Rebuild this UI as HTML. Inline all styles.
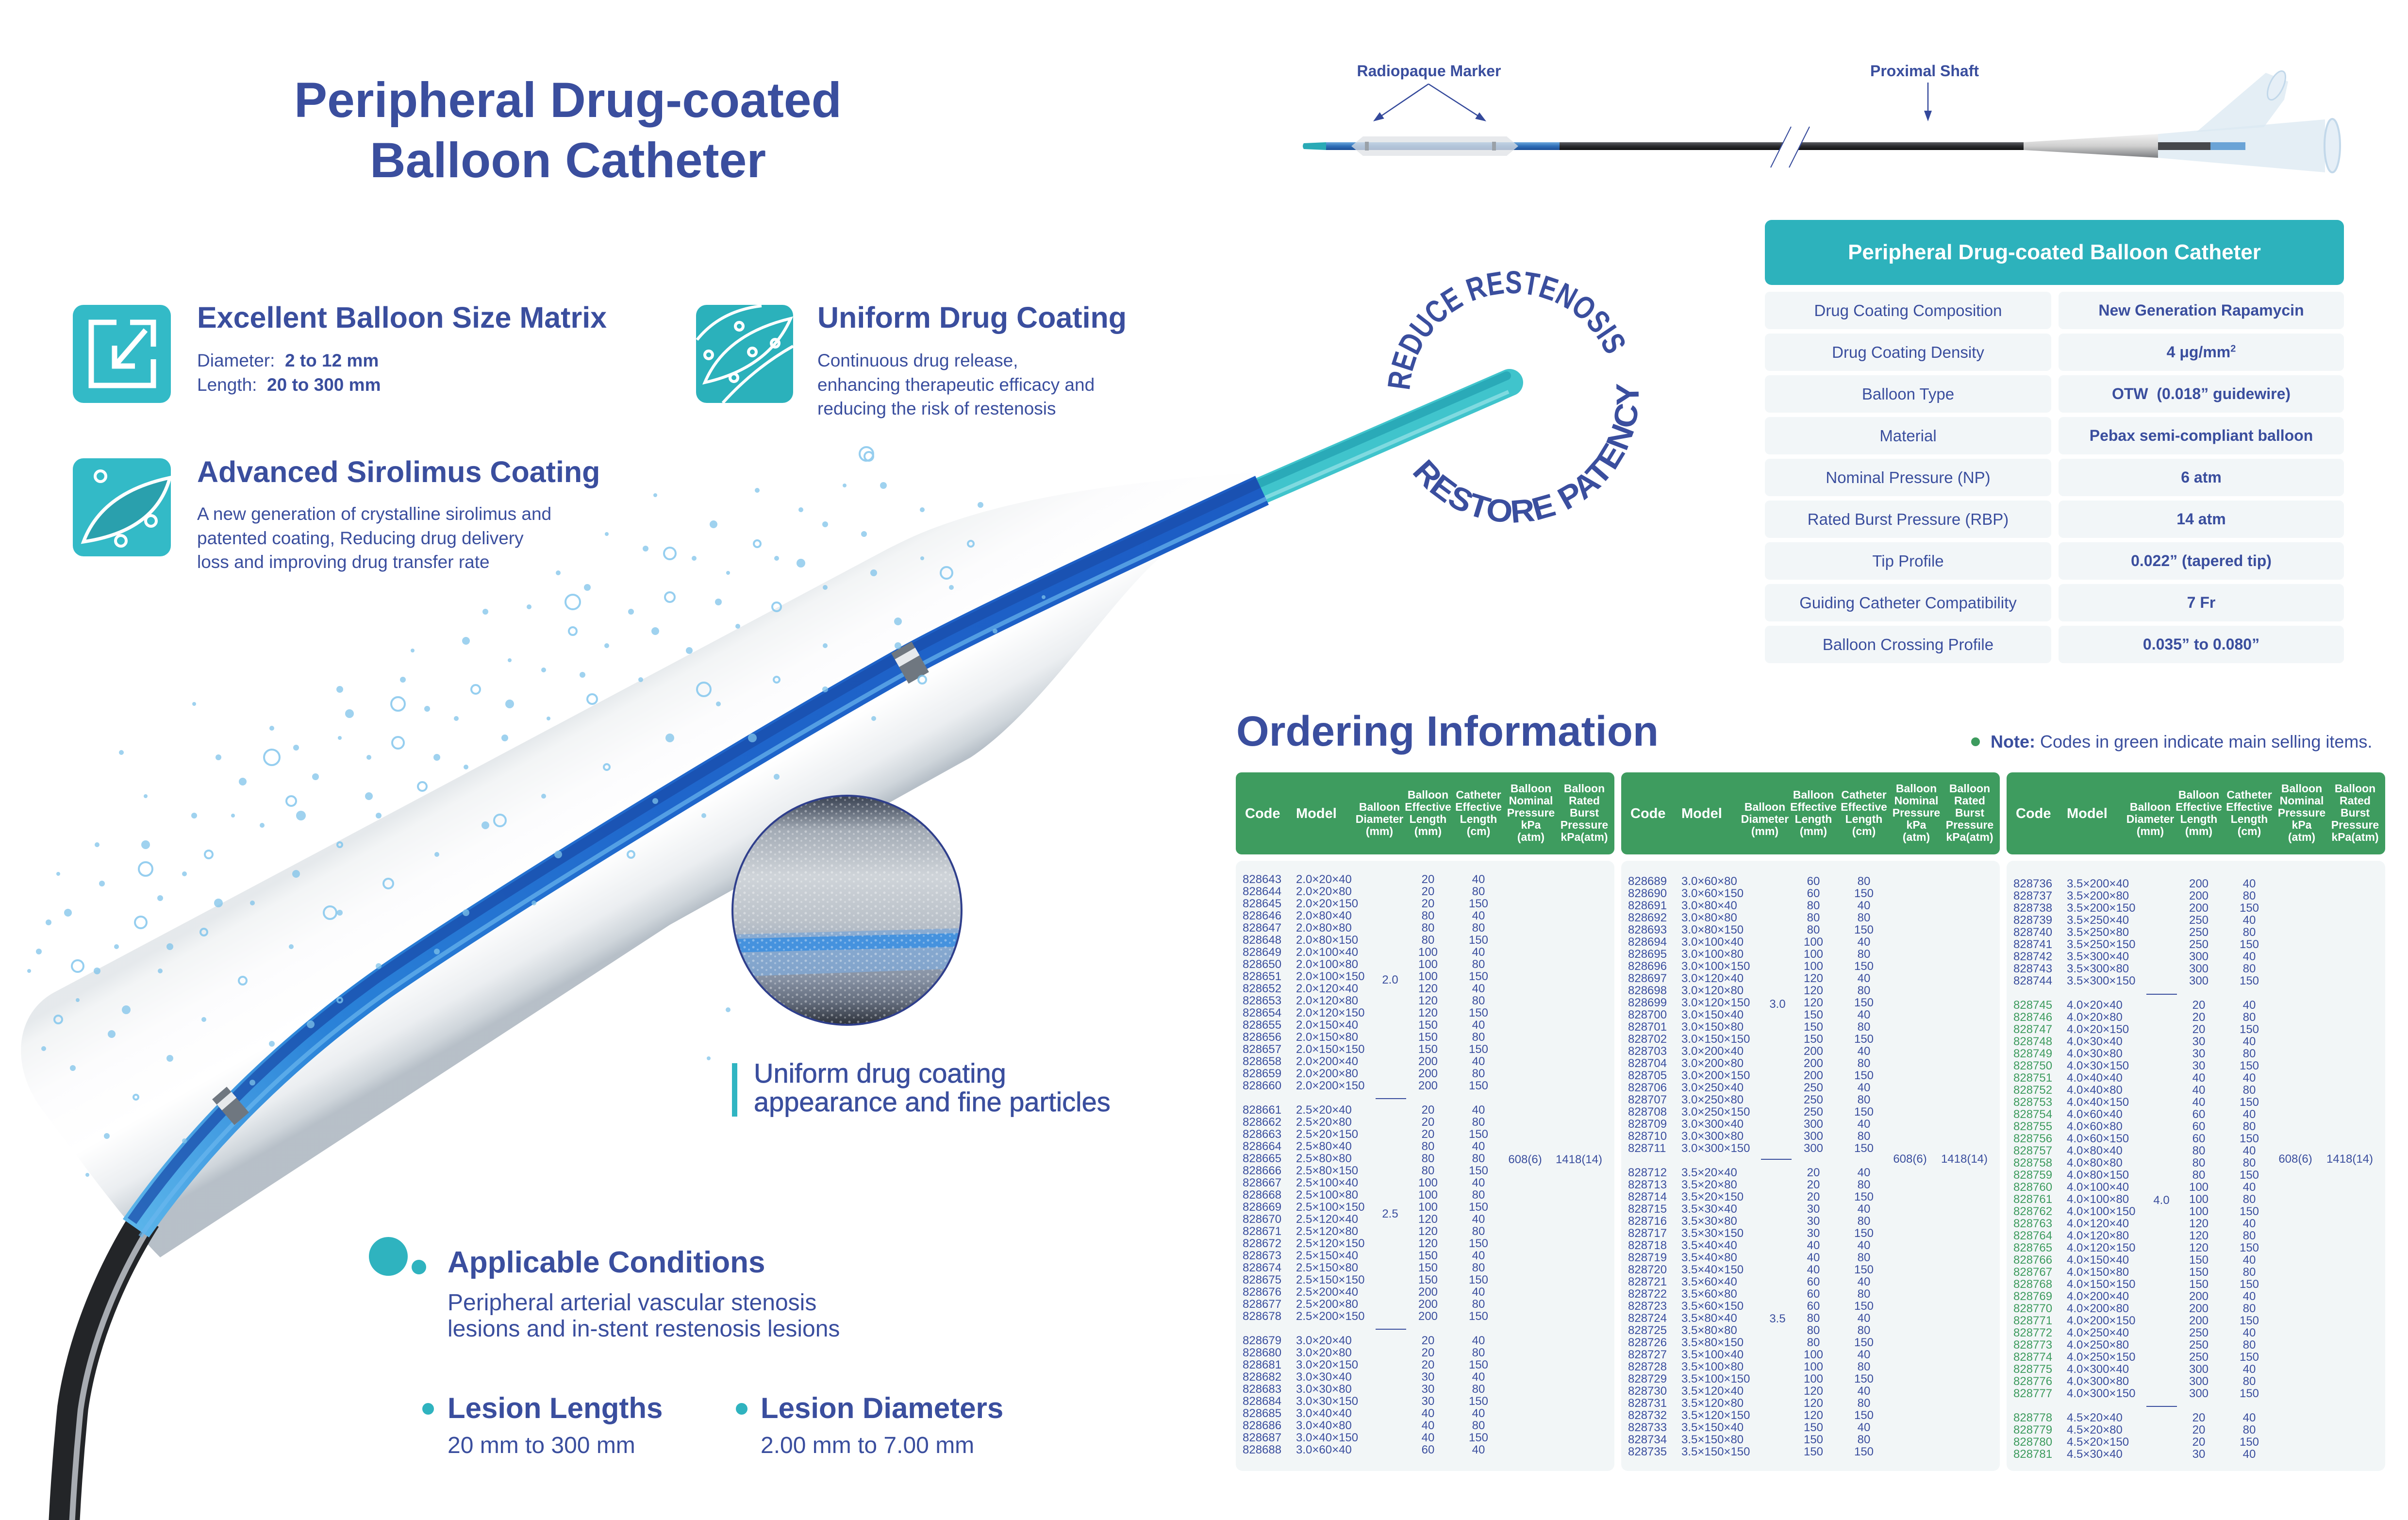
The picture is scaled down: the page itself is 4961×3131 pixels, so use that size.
<!DOCTYPE html>
<html><head><meta charset="utf-8"><title>Peripheral Drug-coated Balloon Catheter</title>
<style>
body{margin:0}
#pg{position:relative;width:4961px;height:3131px;overflow:hidden;background:#fff;font-family:"Liberation Sans",Arial,sans-serif;color:#3a4e9e}
.a{position:absolute;white-space:nowrap}
.hb{position:absolute;background:#3e9c5f;border-radius:12px;width:780px;height:169px;top:1591px}
.bd{position:absolute;background:#f2f6f7;border-radius:14px;width:780px;height:1257px;top:1773px}
.hd{position:absolute;color:#fff;font-weight:bold;font-size:23px;line-height:25px;text-align:center;width:130px;white-space:nowrap}
.hc{position:absolute;color:#fff;font-weight:bold;font-size:29px;line-height:30px;top:1661px}
.tb{position:absolute;font-size:24px;line-height:25px;color:#3a4e9e;width:780px}
.tb div{position:relative;height:25px}
.tb b,.tb i,.tb s,.tb u{position:absolute;top:0;font-weight:normal;font-style:normal;text-decoration:none;white-space:nowrap}
.tb b{left:14px}.tb i{left:124px}.tb s{left:356px;width:80px;text-align:center}.tb u{left:460px;width:80px;text-align:center}
.tb .g b{color:#3d9b5e}
.lbl{position:absolute;font-size:24px;line-height:25px;width:120px;text-align:center;color:#3a4e9e}
.sep{position:absolute;height:2px;width:63px;background:#3a4e9e}
.sl,.sr{position:absolute;height:77px;line-height:77px;text-align:center;background:#f2f6f8;border-radius:10px;white-space:nowrap}
.sl{left:3636px;width:590px;font-size:33px}
.sr{left:4241px;width:588px;font-size:32px;font-weight:bold}
</style></head>
<body><div id="pg">
<svg class="a" style="left:0;top:0" width="4961" height="3131" viewBox="0 0 4961 3131" xmlns="http://www.w3.org/2000/svg">
<defs>
<linearGradient id="balg" gradientUnits="userSpaceOnUse" x1="1145" y1="1494" x2="1377" y2="1906">
<stop offset="0" stop-color="#e4e8eb"/><stop offset=".08" stop-color="#f2f4f5"/><stop offset=".3" stop-color="#fcfcfd"/><stop offset=".6" stop-color="#ffffff"/><stop offset=".82" stop-color="#eaedf0"/><stop offset=".94" stop-color="#ccd3d9"/><stop offset="1" stop-color="#b3bcc5"/>
</linearGradient>
<linearGradient id="blu" gradientUnits="userSpaceOnUse" x1="2600" y1="1010" x2="280" y2="2530">
<stop offset="0" stop-color="#1c5cc4"/><stop offset=".5" stop-color="#1f66cb"/><stop offset=".8" stop-color="#2a82d8"/><stop offset="1" stop-color="#5ab4ea"/>
</linearGradient>
<linearGradient id="magg" x1="0" y1="0" x2="0" y2="1">
<stop offset="0" stop-color="#384050"/><stop offset=".07" stop-color="#656e7c"/><stop offset=".15" stop-color="#a3abb5"/><stop offset=".35" stop-color="#cfd4d9"/><stop offset=".55" stop-color="#bac1c9"/><stop offset=".62" stop-color="#a9b4c2"/><stop offset=".8" stop-color="#8590a2"/><stop offset=".9" stop-color="#646d7d"/><stop offset="1" stop-color="#2c313a"/>
</linearGradient>
<pattern id="spk" width="18" height="14" patternUnits="userSpaceOnUse"><circle cx="4" cy="5" r="2.5" fill="#fff" opacity=".6"/><circle cx="13" cy="10" r="2" fill="#fff" opacity=".5"/></pattern>
<clipPath id="magc"><circle cx="1745" cy="1875" r="236"/></clipPath>
<linearGradient id="sb" x1="0" y1="0" x2="0" y2="1"><stop offset="0" stop-color="#6aa6dc"/><stop offset=".5" stop-color="#2f6fb8"/><stop offset="1" stop-color="#1d4f96"/></linearGradient>
<linearGradient id="sk" x1="0" y1="0" x2="0" y2="1"><stop offset="0" stop-color="#5b5d62"/><stop offset=".5" stop-color="#2a2b2e"/><stop offset="1" stop-color="#111"/></linearGradient>
<linearGradient id="cn" x1="0" y1="0" x2="0" y2="1"><stop offset="0" stop-color="#f2f2f2"/><stop offset=".5" stop-color="#d0d0d0"/><stop offset="1" stop-color="#7b7d80"/></linearGradient>
<path id="tp1" d="M 2904 816 A 212 212 0 0 1 3328 816"/>
<path id="tp2" d="M 2903 965.1 A 260 260 0 0 0 3372 770.9"/>
</defs>

<!-- balloon envelope -->
<path d="M 2610 972 C 2400 985, 2150 1010, 1960 1075 C 1900 1095, 1870 1110, 1830 1130 L 110 2045 C 30 2090, 20 2200, 90 2290 C 180 2410, 260 2520, 330 2590 L 1380 1905 L 2000 1560 C 2150 1460, 2290 1230, 2400 1140 C 2480 1080, 2540 1055, 2610 1045 Z" fill="url(#balg)" opacity=".95"/>

<!-- dark proximal tube -->
<path d="M 300 2510 C 230 2620, 170 2760, 150 2900 C 140 3000, 135 3080, 132 3140" fill="none" stroke="#232528" stroke-width="64"/>
<path d="M 316 2514 C 246 2624, 186 2764, 166 2904 C 156 3004, 151 3084, 148 3144" fill="none" stroke="#c9ced4" stroke-width="12" opacity=".8"/>

<!-- teal tip -->
<path d="M 2600 1010 L 3110 788" stroke="#40c4cc" stroke-width="56" stroke-linecap="round" fill="none"/>
<path d="M 2594 996 L 3104 774" stroke="#2aaab8" stroke-width="18" stroke-linecap="round" fill="none"/>
<path d="M 2607 1025 L 3108 807" stroke="#8fe0e5" stroke-width="8" fill="none" opacity=".8"/>
<!-- blue shaft -->
<path d="M 2600 1010 C 2300 1150, 2000 1290, 1870 1362 C 1500 1570, 1000 1880, 790 2025 C 600 2160, 420 2330, 280 2530" fill="none" stroke="url(#blu)" stroke-width="66"/>
<path d="M 2592 995 C 2292 1135, 1992 1275, 1862 1347 C 1492 1555, 992 1865, 782 2010 C 592 2145, 412 2315, 272 2515" fill="none" stroke="#1a4dab" stroke-width="22" opacity=".75"/>
<path d="M 2609 1027 C 2309 1167, 2009 1307, 1879 1379 C 1509 1587, 1009 1897, 799 2042 C 609 2177, 429 2347, 289 2547" fill="none" stroke="#6ab6ee" stroke-width="9" opacity=".7"/>
<!-- marker bands -->
<path d="M 1896 1353 L 1854 1377" stroke="#6f7780" stroke-width="72"/>
<path d="M 1890 1342 L 1848 1366" stroke="#e6e9ec" stroke-width="18"/>
<path d="M 490 2265 L 460 2291" stroke="#6f7780" stroke-width="70"/>
<path d="M 482 2255 L 452 2281" stroke="#e6e9ec" stroke-width="16"/>

<!-- particles -->
<g fill="#7fc3ea" opacity=".75">
<circle cx="1740" cy="1000" r="4"/><circle cx="1650" cy="1050" r="5"/><circle cx="1500" cy="1180" r="4"/><circle cx="1430" cy="1150" r="5"/><circle cx="1300" cy="1260" r="6"/><circle cx="1250" cy="1330" r="5"/><circle cx="1120" cy="1380" r="5"/><circle cx="1050" cy="1360" r="4"/><circle cx="940" cy="1480" r="5"/><circle cx="880" cy="1460" r="6"/><circle cx="760" cy="1560" r="5"/><circle cx="700" cy="1520" r="4"/><circle cx="650" cy="1600" r="7"/><circle cx="540" cy="1700" r="5"/><circle cx="480" cy="1680" r="4"/><circle cx="380" cy="1800" r="5"/><circle cx="330" cy="1850" r="6"/><circle cx="240" cy="1950" r="5"/><circle cx="200" cy="2000" r="7"/><circle cx="160" cy="2060" r="4"/><circle cx="90" cy="2160" r="5"/><circle cx="150" cy="2200" r="6"/><circle cx="260" cy="2080" r="9"/><circle cx="330" cy="2000" r="5"/><circle cx="520" cy="1860" r="5"/><circle cx="610" cy="1800" r="8"/><circle cx="780" cy="1680" r="6"/><circle cx="960" cy="1580" r="5"/><circle cx="1040" cy="1520" r="7"/><circle cx="1130" cy="1480" r="4"/><circle cx="1320" cy="1400" r="5"/><circle cx="1420" cy="1340" r="7"/><circle cx="1520" cy="1290" r="5"/><circle cx="1700" cy="1210" r="5"/><circle cx="1800" cy="1180" r="7"/><circle cx="1900" cy="1150" r="4"/><circle cx="1960" cy="1210" r="5"/><circle cx="1850" cy="1280" r="8"/><circle cx="1700" cy="1330" r="5"/><circle cx="1480" cy="1450" r="5"/><circle cx="1380" cy="1520" r="9"/><circle cx="1120" cy="1640" r="5"/><circle cx="1000" cy="1700" r="8"/><circle cx="900" cy="1760" r="5"/><circle cx="700" cy="1880" r="6"/><circle cx="600" cy="1950" r="5"/><circle cx="420" cy="2100" r="5"/><circle cx="350" cy="2180" r="7"/><circle cx="220" cy="2340" r="6"/><circle cx="180" cy="2420" r="4"/><circle cx="380" cy="2350" r="5"/><circle cx="560" cy="2150" r="6"/><circle cx="900" cy="1960" r="6"/><circle cx="1100" cy="1860" r="5"/><circle cx="1450" cy="1680" r="5"/><circle cx="1600" cy="1600" r="6"/><circle cx="1800" cy="1480" r="5"/><circle cx="2050" cy="1300" r="5"/><circle cx="2150" cy="1230" r="4"/><circle cx="1150" cy="1180" r="5"/><circle cx="1000" cy="1260" r="6"/><circle cx="850" cy="1340" r="4"/><circle cx="700" cy="1420" r="7"/><circle cx="560" cy="1500" r="5"/><circle cx="450" cy="1560" r="6"/><circle cx="300" cy="1640" r="4"/><circle cx="200" cy="1740" r="5"/><circle cx="100" cy="1900" r="6"/><circle cx="60" cy="2000" r="4"/><circle cx="1500" cy="2080" r="5"/><circle cx="1460" cy="2180" r="4"/><circle cx="1250" cy="1100" r="4"/><circle cx="1600" cy="1150" r="5"/><circle cx="1350" cy="1020" r="4"/><circle cx="400" cy="1450" r="4"/><circle cx="250" cy="1550" r="5"/><circle cx="120" cy="1800" r="4"/>
<circle cx="1820" cy="1000" r="7"/><circle cx="1700" cy="1080" r="6"/><circle cx="1560" cy="1010" r="5"/><circle cx="1470" cy="1080" r="8"/><circle cx="1330" cy="1130" r="6"/><circle cx="1210" cy="1210" r="7"/><circle cx="1090" cy="1250" r="5"/><circle cx="960" cy="1320" r="8"/><circle cx="830" cy="1400" r="6"/><circle cx="720" cy="1470" r="9"/><circle cx="610" cy="1540" r="6"/><circle cx="500" cy="1610" r="8"/><circle cx="400" cy="1680" r="6"/><circle cx="300" cy="1740" r="9"/><circle cx="210" cy="1820" r="6"/><circle cx="140" cy="1880" r="8"/><circle cx="80" cy="1960" r="6"/><circle cx="620" cy="1680" r="10"/><circle cx="760" cy="1640" r="8"/><circle cx="900" cy="1560" r="7"/><circle cx="1050" cy="1450" r="9"/><circle cx="1200" cy="1390" r="6"/><circle cx="1350" cy="1300" r="8"/><circle cx="1480" cy="1240" r="7"/><circle cx="1650" cy="1160" r="9"/><circle cx="1780" cy="1100" r="6"/><circle cx="1900" cy="1050" r="5"/><circle cx="2020" cy="1040" r="6"/><circle cx="450" cy="1860" r="9"/><circle cx="350" cy="1950" r="7"/><circle cx="230" cy="2130" r="8"/><circle cx="520" cy="2230" r="6"/><circle cx="640" cy="2110" r="8"/><circle cx="780" cy="1990" r="6"/><circle cx="960" cy="1880" r="7"/><circle cx="1150" cy="1760" r="8"/><circle cx="1350" cy="1650" r="6"/><circle cx="1550" cy="1520" r="9"/><circle cx="1700" cy="1420" r="6"/><circle cx="1850" cy="1330" r="7"/>
</g>
<g fill="none" stroke="#7cc3ec" stroke-width="4" opacity=".8">
<circle cx="1790" cy="940" r="9"/><circle cx="1560" cy="1120" r="7"/><circle cx="1380" cy="1230" r="10"/><circle cx="1180" cy="1300" r="8"/><circle cx="980" cy="1420" r="9"/><circle cx="820" cy="1530" r="12"/><circle cx="600" cy="1650" r="10"/><circle cx="430" cy="1760" r="8"/><circle cx="290" cy="1900" r="12"/><circle cx="120" cy="2100" r="8"/><circle cx="420" cy="1920" r="7"/><circle cx="700" cy="1740" r="5"/><circle cx="870" cy="1620" r="9"/><circle cx="1220" cy="1440" r="10"/><circle cx="1600" cy="1250" r="9"/><circle cx="2000" cy="1120" r="6"/><circle cx="1600" cy="1400" r="6"/><circle cx="1250" cy="1580" r="6"/><circle cx="800" cy="1820" r="10"/><circle cx="500" cy="2020" r="8"/><circle cx="280" cy="2260" r="5"/><circle cx="700" cy="2060" r="5"/><circle cx="1300" cy="1760" r="7"/><circle cx="1900" cy="1400" r="8"/>
<circle cx="1785" cy="935" r="14"/><circle cx="1380" cy="1140" r="12"/><circle cx="1180" cy="1240" r="15"/><circle cx="820" cy="1450" r="14"/><circle cx="560" cy="1560" r="16"/><circle cx="300" cy="1790" r="14"/><circle cx="160" cy="1990" r="12"/><circle cx="680" cy="1880" r="13"/><circle cx="1030" cy="1690" r="12"/><circle cx="1450" cy="1420" r="14"/><circle cx="1950" cy="1180" r="12"/>
</g>

<!-- magnifier -->
<g clip-path="url(#magc)">
<rect x="1509" y="1639" width="472" height="472" fill="url(#magg)"/>
<path d="M1509 1925 L1981 1912 L1981 1995 L1509 2012 Z" fill="#7fa8d4" opacity=".8"/>
<path d="M1509 1934 L1981 1922 L1981 1950 L1509 1962 Z" fill="#3a8ee0" opacity=".85"/>
<rect x="1509" y="1639" width="472" height="472" fill="url(#spk)" opacity=".6"/>
</g>
<circle cx="1745" cy="1875" r="236" fill="none" stroke="#2f3f8c" stroke-width="4"/>
<rect x="1508" y="2190" width="11" height="110" fill="#30b5c2"/>

<!-- circular text -->
<text font-family="Liberation Sans, sans-serif" font-size="66" font-weight="bold" fill="#3a4e9e"><textPath href="#tp1" startOffset="11" textLength="570" lengthAdjust="spacingAndGlyphs">REDUCE RESTENOSIS</textPath></text>
<text font-family="Liberation Sans, sans-serif" font-size="66" font-weight="bold" fill="#3a4e9e"><textPath href="#tp2" startOffset="9" textLength="676" lengthAdjust="spacingAndGlyphs">RESTORE PATENCY</textPath></text>

<!-- icons -->
<g transform="translate(150,628)">
<rect width="202" height="202" rx="22" fill="#33bac7"/>
<g fill="none" stroke="#fff" stroke-width="11">
<path d="M 90 36 H 38 V 166 H 166 V 112"/><path d="M 118 36 H 166 V 86"/><path d="M 150 52 L 88 124"/><path d="M 86 84 V 126 H 128"/>
</g></g>
<g transform="translate(1434,628)">
<rect width="200" height="202" rx="22" fill="#2bb1bb"/>
<g fill="none" stroke="#fff" stroke-width="6">
<path d="M 2 72 Q 50 12 135 2"/><path d="M 55 202 Q 120 130 200 85"/><path d="M 18 160 Q 60 60 195 28 Q 150 130 18 160 Z"/>
<circle cx="89" cy="44" r="8"/><circle cx="26" cy="103" r="8"/><circle cx="78" cy="150" r="8"/><circle cx="116" cy="97" r="8"/><circle cx="163" cy="79" r="8"/>
</g></g>
<g transform="translate(150,944)">
<rect width="202" height="202" rx="22" fill="#33bac7"/>
<path d="M 22 172 Q 60 70 200 40 Q 170 150 22 172 Z" fill="#2aa0ad" stroke="#fff" stroke-width="7"/>
<g fill="none" stroke="#fff" stroke-width="6"><circle cx="57" cy="37" r="11"/><circle cx="161" cy="129" r="11"/><circle cx="99" cy="170" r="11"/></g>
</g>

<!-- top right catheter diagram -->
<path d="M2686 295 L2732 293 L2732 309 L2686 307 Q2682 301 2686 295Z" fill="#2aaab6"/>
<rect x="2732" y="293" width="481" height="16" fill="url(#sb)"/>
<path d="M2784 301 L2808 281 L3104 281 L3128 301 L3104 321 L2808 321Z" fill="#dfe2e6" fill-opacity=".75"/>
<rect x="2812" y="292" width="8" height="18" fill="#9aa1a8"/><rect x="3074" y="292" width="8" height="18" fill="#9aa1a8"/>
<rect x="3213" y="293" width="956" height="16" fill="url(#sk)"/>
<polygon points="3690,261 3728,261 3686,345 3648,345" fill="#fff"/>
<path d="M3690 261 L3648 345 M3728 261 L3686 345" stroke="#34499b" stroke-width="2"/>
<polygon points="4446,276 4790,246 4790,355 4446,325" fill="#dbe8f2" opacity=".75"/>
<polygon points="4525,272 4668,150 4714,168 4706,205 4664,262" fill="#dbe8f2" opacity=".75"/>
<ellipse cx="4690" cy="176" rx="14" ry="32" transform="rotate(25 4690 176)" fill="#e6eff7" stroke="#c2d8ea" stroke-width="3"/>
<polygon points="4169,293 4446,276 4446,325 4169,309" fill="url(#cn)"/>
<rect x="4446" y="293" width="108" height="16" fill="#46484c"/>
<rect x="4554" y="293" width="72" height="16" fill="#6aa3d6"/>
<ellipse cx="4805" cy="300" rx="16" ry="55" fill="#e6eff7" stroke="#c2d8ea" stroke-width="4"/>
<g stroke="#34499b" stroke-width="2.5" fill="none"><path d="M2943 173 L2835 246 M2943 173 L3055 245 M3972 170 L3972 232"/></g>
<g fill="#34499b"><polygon points="2829,250 2851.7,244.3 2842.5,231.1"/><polygon points="3062,250 3039.2,244.8 3047.8,231.4"/><polygon points="3964,228 3980,228 3972,250"/></g>

<!-- bottom-left dots -->
<circle cx="800" cy="2588" r="40" fill="#2fb3bf"/><circle cx="863" cy="2610" r="15" fill="#2fb3bf"/>
<circle cx="882" cy="2902" r="12" fill="#2fb3bf"/><circle cx="1528" cy="2902" r="12" fill="#2fb3bf"/>
<circle cx="4070" cy="1528" r="9" fill="#3d9b5e"/>
</svg>

<!-- Title -->
<div class="a" style="left:470px;top:144px;width:1400px;text-align:center;font-weight:bold;font-size:102px;line-height:124px">Peripheral Drug-coated<br>Balloon Catheter</div>

<!-- Features -->
<div class="a" style="left:406px;top:619px;font-weight:bold;font-size:61px;line-height:70px">Excellent Balloon Size Matrix</div>
<div class="a" style="left:406px;top:718px;font-size:37px;line-height:49.5px">Diameter:&nbsp; <b>2 to 12 mm</b><br>Length:&nbsp; <b>20 to 300 mm</b></div>
<div class="a" style="left:1684px;top:619px;font-weight:bold;font-size:61px;line-height:70px">Uniform Drug Coating</div>
<div class="a" style="left:1684px;top:718px;font-size:37px;line-height:49.5px">Continuous drug release,<br>enhancing therapeutic efficacy and<br>reducing the risk of restenosis</div>
<div class="a" style="left:406px;top:937px;font-weight:bold;font-size:61px;line-height:70px">Advanced Sirolimus Coating</div>
<div class="a" style="left:406px;top:1034px;font-size:37px;line-height:49.5px">A new generation of crystalline sirolimus and<br>patented coating, Reducing drug delivery<br>loss and improving drug transfer rate</div>

<div class="a" style="left:1553px;top:2181px;font-size:56px;line-height:59px;-webkit-text-stroke:0.7px #3a4e9e">Uniform drug coating<br>appearance and fine particles</div>

<div class="a" style="left:922px;top:2565px;font-weight:bold;font-size:62px;line-height:72px">Applicable Conditions</div>
<div class="a" style="left:922px;top:2657px;font-size:48px;line-height:54px">Peripheral arterial vascular stenosis<br>lesions and in-stent restenosis lesions</div>
<div class="a" style="left:922px;top:2865px;font-weight:bold;font-size:60px;line-height:72px">Lesion Lengths</div>
<div class="a" style="left:922px;top:2951px;font-size:48px;line-height:54px">20 mm to 300 mm</div>
<div class="a" style="left:1567px;top:2865px;font-weight:bold;font-size:60px;line-height:72px">Lesion Diameters</div>
<div class="a" style="left:1567px;top:2951px;font-size:48px;line-height:54px">2.00 mm to 7.00 mm</div>

<!-- Diagram labels -->
<div class="a" style="left:2744px;top:126px;width:400px;text-align:center;font-weight:bold;font-size:32px;line-height:40px">Radiopaque Marker</div>
<div class="a" style="left:3765px;top:126px;width:400px;text-align:center;font-weight:bold;font-size:32px;line-height:40px">Proximal Shaft</div>

<!-- Spec table -->
<div class="a" style="left:3636px;top:453px;width:1193px;height:134px;background:#2db2bc;border-radius:14px;color:#fff;text-align:center;font-weight:bold;font-size:44px;line-height:134px">Peripheral Drug-coated Balloon Catheter</div>
<div class="sl" style="top:601px">Drug Coating Composition</div><div class="sr" style="top:601px">New Generation Rapamycin</div>
<div class="sl" style="top:687px">Drug Coating Density</div><div class="sr" style="top:687px">4 μg/mm<sup style="font-size:20px;line-height:0">2</sup></div>
<div class="sl" style="top:773px">Balloon Type</div><div class="sr" style="top:773px">OTW&nbsp; (0.018” guidewire)</div>
<div class="sl" style="top:859px">Material</div><div class="sr" style="top:859px">Pebax semi-compliant balloon</div>
<div class="sl" style="top:945px">Nominal Pressure (NP)</div><div class="sr" style="top:945px">6 atm</div>
<div class="sl" style="top:1031px">Rated Burst Pressure (RBP)</div><div class="sr" style="top:1031px">14 atm</div>
<div class="sl" style="top:1117px">Tip Profile</div><div class="sr" style="top:1117px">0.022” (tapered tip)</div>
<div class="sl" style="top:1203px">Guiding Catheter Compatibility</div><div class="sr" style="top:1203px">7 Fr</div>
<div class="sl" style="top:1289px">Balloon Crossing Profile</div><div class="sr" style="top:1289px">0.035” to 0.080”</div>

<!-- Ordering -->
<div class="a" style="left:2547px;top:1457px;font-weight:bold;font-size:87px;line-height:100px">Ordering Information</div>
<div class="a" style="left:4101px;top:1507px;font-size:36px;line-height:42px"><b>Note:</b> Codes in green indicate main selling items.</div>

<!-- table frames -->
<div class="hb" style="left:2546px"></div><div class="hb" style="left:3340px"></div><div class="hb" style="left:4134px"></div>
<div class="bd" style="left:2546px"></div><div class="bd" style="left:3340px"></div><div class="bd" style="left:4134px"></div>

<!-- headers -->
<div class="hc" style="left:2565px">Code</div><div class="hc" style="left:2670px">Model</div>
<div class="hd" style="left:2777px;top:1650px">Balloon<br>Diameter<br>(mm)</div>
<div class="hd" style="left:2877px;top:1625px">Balloon<br>Effective<br>Length<br>(mm)</div>
<div class="hd" style="left:2981px;top:1625px">Catheter<br>Effective<br>Length<br>(cm)</div>
<div class="hd" style="left:3089px;top:1612px">Balloon<br>Nominal<br>Pressure<br>kPa<br>(atm)</div>
<div class="hd" style="left:3199px;top:1612px">Balloon<br>Rated<br>Burst<br>Pressure<br>kPa(atm)</div>

<div class="hc" style="left:3359px">Code</div><div class="hc" style="left:3464px">Model</div>
<div class="hd" style="left:3571px;top:1650px">Balloon<br>Diameter<br>(mm)</div>
<div class="hd" style="left:3671px;top:1625px">Balloon<br>Effective<br>Length<br>(mm)</div>
<div class="hd" style="left:3775px;top:1625px">Catheter<br>Effective<br>Length<br>(cm)</div>
<div class="hd" style="left:3883px;top:1612px">Balloon<br>Nominal<br>Pressure<br>kPa<br>(atm)</div>
<div class="hd" style="left:3993px;top:1612px">Balloon<br>Rated<br>Burst<br>Pressure<br>kPa(atm)</div>

<div class="hc" style="left:4153px">Code</div><div class="hc" style="left:4258px">Model</div>
<div class="hd" style="left:4365px;top:1650px">Balloon<br>Diameter<br>(mm)</div>
<div class="hd" style="left:4465px;top:1625px">Balloon<br>Effective<br>Length<br>(mm)</div>
<div class="hd" style="left:4569px;top:1625px">Catheter<br>Effective<br>Length<br>(cm)</div>
<div class="hd" style="left:4677px;top:1612px">Balloon<br>Nominal<br>Pressure<br>kPa<br>(atm)</div>
<div class="hd" style="left:4787px;top:1612px">Balloon<br>Rated<br>Burst<br>Pressure<br>kPa(atm)</div>

<!-- table 1 -->
<div class="tb" style="left:2546px;top:1798.5px">
<div><b>828643</b><i>2.0×20×40</i><s>20</s><u>40</u></div>
<div><b>828644</b><i>2.0×20×80</i><s>20</s><u>80</u></div>
<div><b>828645</b><i>2.0×20×150</i><s>20</s><u>150</u></div>
<div><b>828646</b><i>2.0×80×40</i><s>80</s><u>40</u></div>
<div><b>828647</b><i>2.0×80×80</i><s>80</s><u>80</u></div>
<div><b>828648</b><i>2.0×80×150</i><s>80</s><u>150</u></div>
<div><b>828649</b><i>2.0×100×40</i><s>100</s><u>40</u></div>
<div><b>828650</b><i>2.0×100×80</i><s>100</s><u>80</u></div>
<div><b>828651</b><i>2.0×100×150</i><s>100</s><u>150</u></div>
<div><b>828652</b><i>2.0×120×40</i><s>120</s><u>40</u></div>
<div><b>828653</b><i>2.0×120×80</i><s>120</s><u>80</u></div>
<div><b>828654</b><i>2.0×120×150</i><s>120</s><u>150</u></div>
<div><b>828655</b><i>2.0×150×40</i><s>150</s><u>40</u></div>
<div><b>828656</b><i>2.0×150×80</i><s>150</s><u>80</u></div>
<div><b>828657</b><i>2.0×150×150</i><s>150</s><u>150</u></div>
<div><b>828658</b><i>2.0×200×40</i><s>200</s><u>40</u></div>
<div><b>828659</b><i>2.0×200×80</i><s>200</s><u>80</u></div>
<div><b>828660</b><i>2.0×200×150</i><s>200</s><u>150</u></div>
<div></div>
<div><b>828661</b><i>2.5×20×40</i><s>20</s><u>40</u></div>
<div><b>828662</b><i>2.5×20×80</i><s>20</s><u>80</u></div>
<div><b>828663</b><i>2.5×20×150</i><s>20</s><u>150</u></div>
<div><b>828664</b><i>2.5×80×40</i><s>80</s><u>40</u></div>
<div><b>828665</b><i>2.5×80×80</i><s>80</s><u>80</u></div>
<div><b>828666</b><i>2.5×80×150</i><s>80</s><u>150</u></div>
<div><b>828667</b><i>2.5×100×40</i><s>100</s><u>40</u></div>
<div><b>828668</b><i>2.5×100×80</i><s>100</s><u>80</u></div>
<div><b>828669</b><i>2.5×100×150</i><s>100</s><u>150</u></div>
<div><b>828670</b><i>2.5×120×40</i><s>120</s><u>40</u></div>
<div><b>828671</b><i>2.5×120×80</i><s>120</s><u>80</u></div>
<div><b>828672</b><i>2.5×120×150</i><s>120</s><u>150</u></div>
<div><b>828673</b><i>2.5×150×40</i><s>150</s><u>40</u></div>
<div><b>828674</b><i>2.5×150×80</i><s>150</s><u>80</u></div>
<div><b>828675</b><i>2.5×150×150</i><s>150</s><u>150</u></div>
<div><b>828676</b><i>2.5×200×40</i><s>200</s><u>40</u></div>
<div><b>828677</b><i>2.5×200×80</i><s>200</s><u>80</u></div>
<div><b>828678</b><i>2.5×200×150</i><s>200</s><u>150</u></div>
<div></div>
<div><b>828679</b><i>3.0×20×40</i><s>20</s><u>40</u></div>
<div><b>828680</b><i>3.0×20×80</i><s>20</s><u>80</u></div>
<div><b>828681</b><i>3.0×20×150</i><s>20</s><u>150</u></div>
<div><b>828682</b><i>3.0×30×40</i><s>30</s><u>40</u></div>
<div><b>828683</b><i>3.0×30×80</i><s>30</s><u>80</u></div>
<div><b>828684</b><i>3.0×30×150</i><s>30</s><u>150</u></div>
<div><b>828685</b><i>3.0×40×40</i><s>40</s><u>40</u></div>
<div><b>828686</b><i>3.0×40×80</i><s>40</s><u>80</u></div>
<div><b>828687</b><i>3.0×40×150</i><s>40</s><u>150</u></div>
<div><b>828688</b><i>3.0×60×40</i><s>60</s><u>40</u></div>
</div>

<!-- table 2 -->
<div class="tb" style="left:3340px;top:1802.5px">
<div><b>828689</b><i>3.0×60×80</i><s>60</s><u>80</u></div>
<div><b>828690</b><i>3.0×60×150</i><s>60</s><u>150</u></div>
<div><b>828691</b><i>3.0×80×40</i><s>80</s><u>40</u></div>
<div><b>828692</b><i>3.0×80×80</i><s>80</s><u>80</u></div>
<div><b>828693</b><i>3.0×80×150</i><s>80</s><u>150</u></div>
<div><b>828694</b><i>3.0×100×40</i><s>100</s><u>40</u></div>
<div><b>828695</b><i>3.0×100×80</i><s>100</s><u>80</u></div>
<div><b>828696</b><i>3.0×100×150</i><s>100</s><u>150</u></div>
<div><b>828697</b><i>3.0×120×40</i><s>120</s><u>40</u></div>
<div><b>828698</b><i>3.0×120×80</i><s>120</s><u>80</u></div>
<div><b>828699</b><i>3.0×120×150</i><s>120</s><u>150</u></div>
<div><b>828700</b><i>3.0×150×40</i><s>150</s><u>40</u></div>
<div><b>828701</b><i>3.0×150×80</i><s>150</s><u>80</u></div>
<div><b>828702</b><i>3.0×150×150</i><s>150</s><u>150</u></div>
<div><b>828703</b><i>3.0×200×40</i><s>200</s><u>40</u></div>
<div><b>828704</b><i>3.0×200×80</i><s>200</s><u>80</u></div>
<div><b>828705</b><i>3.0×200×150</i><s>200</s><u>150</u></div>
<div><b>828706</b><i>3.0×250×40</i><s>250</s><u>40</u></div>
<div><b>828707</b><i>3.0×250×80</i><s>250</s><u>80</u></div>
<div><b>828708</b><i>3.0×250×150</i><s>250</s><u>150</u></div>
<div><b>828709</b><i>3.0×300×40</i><s>300</s><u>40</u></div>
<div><b>828710</b><i>3.0×300×80</i><s>300</s><u>80</u></div>
<div><b>828711</b><i>3.0×300×150</i><s>300</s><u>150</u></div>
<div></div>
<div><b>828712</b><i>3.5×20×40</i><s>20</s><u>40</u></div>
<div><b>828713</b><i>3.5×20×80</i><s>20</s><u>80</u></div>
<div><b>828714</b><i>3.5×20×150</i><s>20</s><u>150</u></div>
<div><b>828715</b><i>3.5×30×40</i><s>30</s><u>40</u></div>
<div><b>828716</b><i>3.5×30×80</i><s>30</s><u>80</u></div>
<div><b>828717</b><i>3.5×30×150</i><s>30</s><u>150</u></div>
<div><b>828718</b><i>3.5×40×40</i><s>40</s><u>40</u></div>
<div><b>828719</b><i>3.5×40×80</i><s>40</s><u>80</u></div>
<div><b>828720</b><i>3.5×40×150</i><s>40</s><u>150</u></div>
<div><b>828721</b><i>3.5×60×40</i><s>60</s><u>40</u></div>
<div><b>828722</b><i>3.5×60×80</i><s>60</s><u>80</u></div>
<div><b>828723</b><i>3.5×60×150</i><s>60</s><u>150</u></div>
<div><b>828724</b><i>3.5×80×40</i><s>80</s><u>40</u></div>
<div><b>828725</b><i>3.5×80×80</i><s>80</s><u>80</u></div>
<div><b>828726</b><i>3.5×80×150</i><s>80</s><u>150</u></div>
<div><b>828727</b><i>3.5×100×40</i><s>100</s><u>40</u></div>
<div><b>828728</b><i>3.5×100×80</i><s>100</s><u>80</u></div>
<div><b>828729</b><i>3.5×100×150</i><s>100</s><u>150</u></div>
<div><b>828730</b><i>3.5×120×40</i><s>120</s><u>40</u></div>
<div><b>828731</b><i>3.5×120×80</i><s>120</s><u>80</u></div>
<div><b>828732</b><i>3.5×120×150</i><s>120</s><u>150</u></div>
<div><b>828733</b><i>3.5×150×40</i><s>150</s><u>40</u></div>
<div><b>828734</b><i>3.5×150×80</i><s>150</s><u>80</u></div>
<div><b>828735</b><i>3.5×150×150</i><s>150</s><u>150</u></div>
</div>

<!-- table 3 -->
<div class="tb" style="left:4134px;top:1807.5px">
<div><b>828736</b><i>3.5×200×40</i><s>200</s><u>40</u></div>
<div><b>828737</b><i>3.5×200×80</i><s>200</s><u>80</u></div>
<div><b>828738</b><i>3.5×200×150</i><s>200</s><u>150</u></div>
<div><b>828739</b><i>3.5×250×40</i><s>250</s><u>40</u></div>
<div><b>828740</b><i>3.5×250×80</i><s>250</s><u>80</u></div>
<div><b>828741</b><i>3.5×250×150</i><s>250</s><u>150</u></div>
<div><b>828742</b><i>3.5×300×40</i><s>300</s><u>40</u></div>
<div><b>828743</b><i>3.5×300×80</i><s>300</s><u>80</u></div>
<div><b>828744</b><i>3.5×300×150</i><s>300</s><u>150</u></div>
<div></div>
<div class="g"><b>828745</b><i>4.0×20×40</i><s>20</s><u>40</u></div>
<div class="g"><b>828746</b><i>4.0×20×80</i><s>20</s><u>80</u></div>
<div class="g"><b>828747</b><i>4.0×20×150</i><s>20</s><u>150</u></div>
<div class="g"><b>828748</b><i>4.0×30×40</i><s>30</s><u>40</u></div>
<div class="g"><b>828749</b><i>4.0×30×80</i><s>30</s><u>80</u></div>
<div class="g"><b>828750</b><i>4.0×30×150</i><s>30</s><u>150</u></div>
<div class="g"><b>828751</b><i>4.0×40×40</i><s>40</s><u>40</u></div>
<div class="g"><b>828752</b><i>4.0×40×80</i><s>40</s><u>80</u></div>
<div class="g"><b>828753</b><i>4.0×40×150</i><s>40</s><u>150</u></div>
<div class="g"><b>828754</b><i>4.0×60×40</i><s>60</s><u>40</u></div>
<div class="g"><b>828755</b><i>4.0×60×80</i><s>60</s><u>80</u></div>
<div class="g"><b>828756</b><i>4.0×60×150</i><s>60</s><u>150</u></div>
<div class="g"><b>828757</b><i>4.0×80×40</i><s>80</s><u>40</u></div>
<div class="g"><b>828758</b><i>4.0×80×80</i><s>80</s><u>80</u></div>
<div class="g"><b>828759</b><i>4.0×80×150</i><s>80</s><u>150</u></div>
<div class="g"><b>828760</b><i>4.0×100×40</i><s>100</s><u>40</u></div>
<div class="g"><b>828761</b><i>4.0×100×80</i><s>100</s><u>80</u></div>
<div class="g"><b>828762</b><i>4.0×100×150</i><s>100</s><u>150</u></div>
<div class="g"><b>828763</b><i>4.0×120×40</i><s>120</s><u>40</u></div>
<div class="g"><b>828764</b><i>4.0×120×80</i><s>120</s><u>80</u></div>
<div class="g"><b>828765</b><i>4.0×120×150</i><s>120</s><u>150</u></div>
<div class="g"><b>828766</b><i>4.0×150×40</i><s>150</s><u>40</u></div>
<div class="g"><b>828767</b><i>4.0×150×80</i><s>150</s><u>80</u></div>
<div class="g"><b>828768</b><i>4.0×150×150</i><s>150</s><u>150</u></div>
<div class="g"><b>828769</b><i>4.0×200×40</i><s>200</s><u>40</u></div>
<div class="g"><b>828770</b><i>4.0×200×80</i><s>200</s><u>80</u></div>
<div class="g"><b>828771</b><i>4.0×200×150</i><s>200</s><u>150</u></div>
<div class="g"><b>828772</b><i>4.0×250×40</i><s>250</s><u>40</u></div>
<div class="g"><b>828773</b><i>4.0×250×80</i><s>250</s><u>80</u></div>
<div class="g"><b>828774</b><i>4.0×250×150</i><s>250</s><u>150</u></div>
<div class="g"><b>828775</b><i>4.0×300×40</i><s>300</s><u>40</u></div>
<div class="g"><b>828776</b><i>4.0×300×80</i><s>300</s><u>80</u></div>
<div class="g"><b>828777</b><i>4.0×300×150</i><s>300</s><u>150</u></div>
<div></div>
<div class="g"><b>828778</b><i>4.5×20×40</i><s>20</s><u>40</u></div>
<div class="g"><b>828779</b><i>4.5×20×80</i><s>20</s><u>80</u></div>
<div class="g"><b>828780</b><i>4.5×20×150</i><s>20</s><u>150</u></div>
<div class="g"><b>828781</b><i>4.5×30×40</i><s>30</s><u>40</u></div>
</div>

<!-- separators -->
<div class="sep" style="left:2834px;top:2262px"></div><div class="sep" style="left:2834px;top:2737px"></div>
<div class="sep" style="left:3628px;top:2387px"></div>
<div class="sep" style="left:4422px;top:2047px"></div><div class="sep" style="left:4422px;top:2896px"></div>

<!-- diameter labels & pressures -->
<div class="lbl" style="left:2804px;top:2006px">2.0</div>
<div class="lbl" style="left:2804px;top:2488px">2.5</div>
<div class="lbl" style="left:3602px;top:2056px">3.0</div>
<div class="lbl" style="left:3602px;top:2704px">3.5</div>
<div class="lbl" style="left:4393px;top:2460px">4.0</div>
<div class="lbl" style="left:3082px;top:2376px">608(6)</div><div class="lbl" style="left:3193px;top:2376px">1418(14)</div>
<div class="lbl" style="left:3875px;top:2375px">608(6)</div><div class="lbl" style="left:3987px;top:2375px">1418(14)</div>
<div class="lbl" style="left:4669px;top:2375px">608(6)</div><div class="lbl" style="left:4781px;top:2375px">1418(14)</div>
</div></body></html>
